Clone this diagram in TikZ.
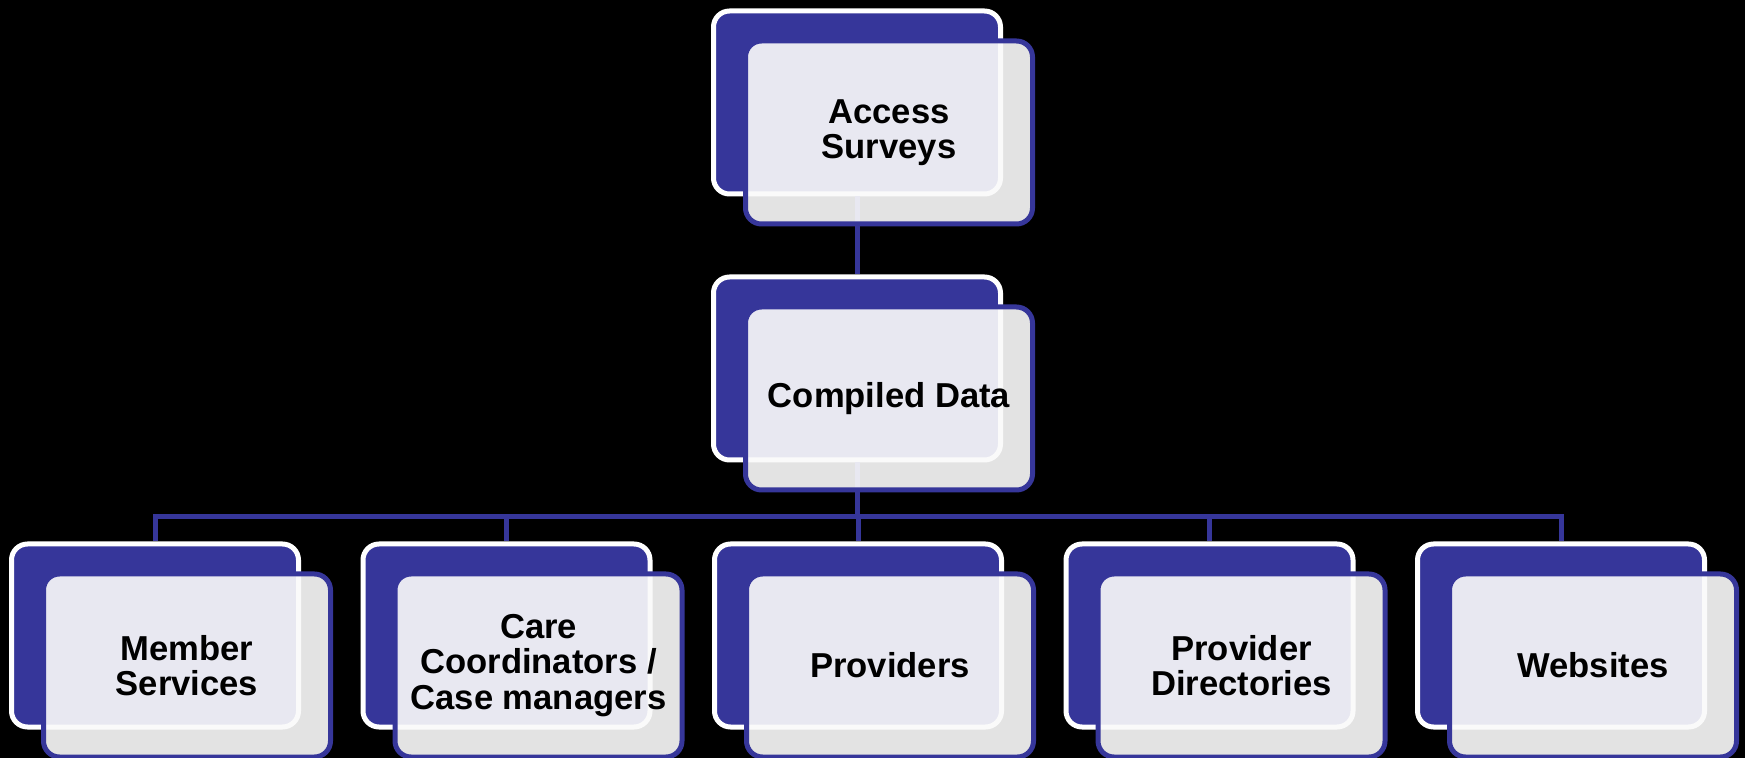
\documentclass[tikz,border=0pt]{standalone}
\usepackage{fontspec}
\setmainfont{Liberation Sans}
\definecolor{boxblue}{RGB}{54,54,154}
\definecolor{boxpale}{RGB}{250,250,250}

\begin{document}
\begin{tikzpicture}[x=0.5pt, y=-0.5pt,
backbox/.style={rectangle, rounded corners=8pt, draw=white, fill=boxblue, line width=2.5pt, minimum width=143.5pt, minimum height=91.5pt},
frontbox/.style={rectangle, rounded corners=8pt, draw=boxblue, fill=boxpale, fill opacity=0.91, text opacity=1, line width=2.5pt, minimum width=143.5pt, minimum height=91.5pt, align=center, font=\fontsize{17.3}{17.8}\selectfont\bfseries},
link/.style={draw=boxblue, line width=2.5pt},
]
\fill[black] (0,0) rectangle (1745,758);
\useasboundingbox (0,0) rectangle (1745,758);

%Back cards
\node[backbox] (accessback) at (857,102.5) {};
\node[backbox] (compiledback) at (857,368.5) {};
\node[backbox] (memberback) at (155,635.5) {};
\node[backbox] (careback) at (506.5,635.5) {};
\node[backbox] (providersback) at (858,635.5) {};
\node[backbox] (directoriesback) at (1209.5,635.5) {};
\node[backbox] (websitesback) at (1561,635.5) {};

%Lines
\coordinate (bus) at (857,517);
\draw[link] (accessback.south) -- (compiledback.north);
\draw[link] (compiledback.south) -- (bus) -| (memberback.north);
\draw[link] (compiledback.south) -- (bus) -| (careback.north);
\draw[link] (compiledback.south) -- (bus) -| (providersback.north);
\draw[link] (compiledback.south) -- (bus) -| (directoriesback.north);
\draw[link] (compiledback.south) -- (bus) -| (websitesback.north);

%Front cards
\node[frontbox] (access) at ([shift={(32,30)}]accessback) {Access\\Surveys};
\node[frontbox] (compiled) at ([shift={(32,30)}]compiledback) {Compiled Data};
\node[frontbox] (member) at ([shift={(32,30)}]memberback) {Member\\Services};
\node[frontbox] (care) at ([shift={(32,30)}]careback) {Care\\Coordinators /\\Case managers};
\node[frontbox] (providers) at ([shift={(32,30)}]providersback) {Providers};
\node[frontbox] (directories) at ([shift={(32,30)}]directoriesback) {Provider\\Directories};
\node[frontbox] (websites) at ([shift={(32,30)}]websitesback) {Websites};
\end{tikzpicture}
\end{document}
